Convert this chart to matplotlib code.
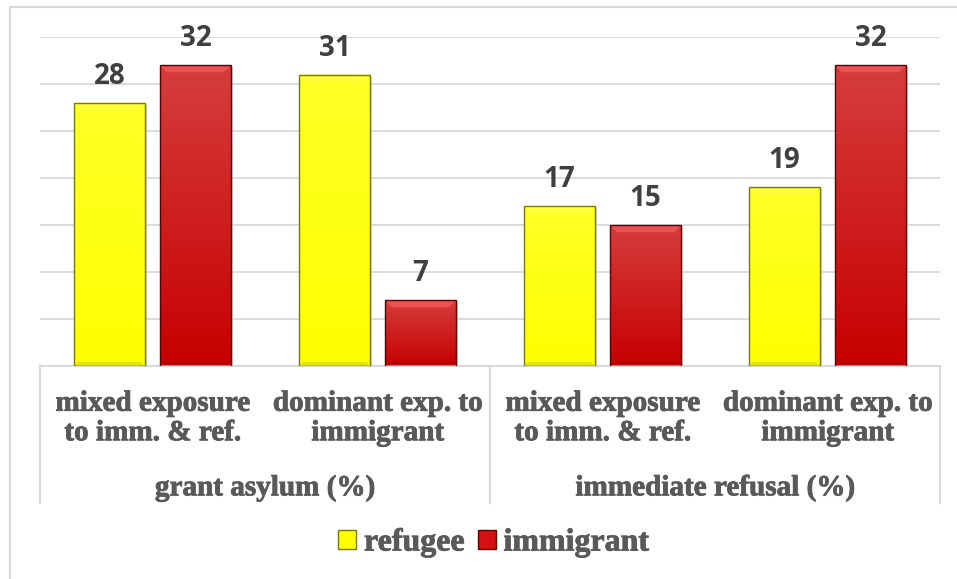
import numpy as np
import matplotlib
matplotlib.use("Agg")
import matplotlib.pyplot as plt
import matplotlib.patheffects as pe
from matplotlib.patches import Rectangle, Polygon
from matplotlib.lines import Line2D

categories = ["mixed exposure\nto imm. & ref.", "dominant exp. to\nimmigrant",
              "mixed exposure\nto imm. & ref.", "dominant exp. to\nimmigrant"]
groups = ["grant asylum (%)", "immediate refusal (%)"]
series = ["refugee", "immigrant"]
refugee = [28, 31, 17, 19]
immigrant = [32, 7, 15, 32]

W, H = 957, 579
fig = plt.figure(figsize=(W / 100, H / 100), dpi=100)
ax = fig.add_axes([40 / W, (H - 366) / H, 900 / W, 329 / H])
ax.set_xlim(-0.5, 3.5)
ax.set_ylim(0, 35)

# outer chart frame (clipped at right/bottom like the original)
fig.patches.append(Rectangle((10 / W, -0.1), 1.1, (H - 7) / H + 0.1, transform=fig.transFigure,
                             fill=False, edgecolor="#d9d9d9", linewidth=1.5))

for y in range(5, 40, 5):
    ax.axhline(y, color="#d9d9d9", linewidth=1.3, zorder=0)

for s in ax.spines.values():
    s.set_visible(False)
ax.set_xticks([])
ax.set_yticks([])

px_x = 4 / 900
px_y = 35 / 329
width = 71 * px_x
offset = 43 * px_x
heavy = [pe.withStroke(linewidth=0.6, foreground="#595959")]


def grad_bar(x, h, top, bottom, edge):
    x0, x1 = x - width / 2, x + width / 2
    # shadow
    ax.add_patch(Rectangle((x0 + 2 * px_x, -2 * px_y), width, h, facecolor="#bfbfbf",
                           edgecolor="none", alpha=0.6, zorder=1))
    # gradient body, top colour at the top of the bar
    rect = Rectangle((x0, 0), width, h, facecolor="none", edgecolor="none", zorder=2)
    ax.add_patch(rect)
    g = np.linspace(0, 1, 100)[:, None, None]
    cols = np.array(top)[None, None, :] * (1 - g) + np.array(bottom)[None, None, :] * g
    im = ax.imshow(cols, extent=(x0, x1, 0, h), origin="upper", aspect="auto", zorder=2)
    im.set_clip_path(rect)
    # bevel: light top, a bit darker at the bottom
    b = 7
    light = tuple(min(1, c + 0.08) for c in top)
    ax.add_patch(Polygon([(x0, h), (x1, h), (x1 - b * px_x, h - b * px_y), (x0 + b * px_x, h - b * px_y)],
                         closed=True, facecolor=light, edgecolor="none", zorder=3))
    ax.add_patch(Polygon([(x0, 0), (x1, 0), (x1 - 4 * px_x, 4 * px_y), (x0 + 4 * px_x, 4 * px_y)],
                         closed=True, facecolor=edge, edgecolor="none", alpha=0.2, zorder=3))
    ax.add_patch(Rectangle((x0, 0), width, h, facecolor="none", edgecolor=edge, linewidth=1.0, zorder=4))
    ax.text(x, h + 19 * px_y, str(h), ha="center", va="baseline", fontsize=20, fontweight="bold",
            family="Open Sans", color="#404040", zorder=5)


yel_top, yel_bot = (1.0, 1.0, 0.15), (1.0, 1.0, 0.0)
red_top, red_bot = (0.84, 0.24, 0.24), (0.78, 0.0, 0.0)
for i in range(len(categories)):
    grad_bar(i - offset, refugee[i], yel_top, yel_bot, "#7a7a00")
    grad_bar(i + offset, immigrant[i], red_top, red_bot, "#5e0000")

# multi-level category axis
tr = ax.get_xaxis_transform()
line_kw = dict(color="#d9d9d9", linewidth=1.5, transform=ax.transAxes, clip_on=False)
ax.add_line(Line2D([0, 1], [0, 0], **line_kw))
for xf in [0, 0.5, 1]:
    ax.add_line(Line2D([xf, xf], [0, -137 / 329], **line_kw))

txt = dict(family="Liberation Serif", fontweight="bold", color="#595959", ha="center", va="center",
           path_effects=heavy)
for i, c in enumerate(categories):
    ax.text(i, -52 / 329, c, transform=tr, fontsize=21, linespacing=1.12, **txt)
for j, g in enumerate(groups):
    ax.text(0.5 + 2 * j, -122 / 329, g, transform=tr, fontsize=21, **txt)

handles = [Rectangle((0, 0), 1, 1, facecolor="#ffff00", edgecolor="#7a7a00"),
           Rectangle((0, 0), 1, 1, facecolor="#d41010", edgecolor="#5e0000")]
leg = fig.legend(handles, series, loc="center", bbox_to_anchor=(494 / W, (H - 543) / H), ncol=2,
                 frameon=False, handlelength=0.55, handleheight=0.55, handletextpad=0.25, columnspacing=0.4,
                 borderpad=0, prop={"family": "Liberation Serif", "weight": "bold", "size": 23})
for t in leg.get_texts():
    t.set_color("#595959")
    t.set_path_effects(heavy)

fig.savefig("out.png", dpi=100)
